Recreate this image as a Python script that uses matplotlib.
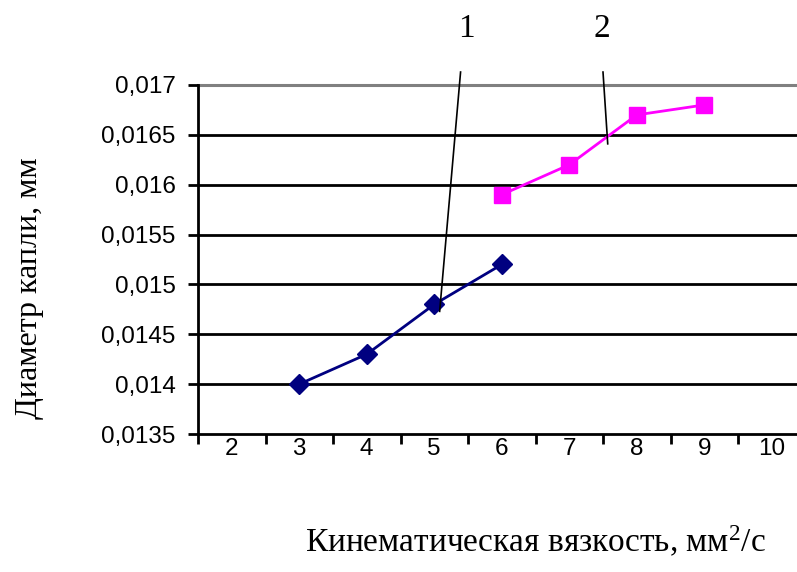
import matplotlib
matplotlib.use('Agg')
from matplotlib import pyplot as plt
from matplotlib.ticker import FixedLocator, FuncFormatter

plt.rcParams['mathtext.fontset'] = 'custom'
plt.rcParams['mathtext.rm'] = 'Liberation Serif'
plt.rcParams['mathtext.it'] = 'Liberation Serif:italic'

# data
categories = [2, 3, 4, 5, 6, 7, 8, 9, 10]
x1 = [3, 4, 5, 6]
d1 = [0.0140, 0.0143, 0.0148, 0.0152]
x2 = [6, 7, 8, 9]
d2 = [0.0159, 0.0162, 0.0167, 0.0168]
yticks = [0.0135, 0.014, 0.0145, 0.015, 0.0155, 0.016, 0.0165, 0.017]

fig = plt.figure(figsize=(7.97, 5.72), dpi=100)
W, H = 797.0, 572.0
ax = fig.add_axes([198 / W, (H - 434) / H, 607.5 / W, 349 / H])

ax.set_xlim(1.5, 10.5)
ax.set_ylim(0.0135, 0.017)

for y in yticks[1:-1]:
    ax.axhline(y, color='black', lw=2, zorder=1)
ax.axhline(0.017, color='#808080', lw=2.2, zorder=1, clip_on=False)

ax.plot(x1, d1, color='#000080', lw=2, marker='D', ms=10.5, zorder=3)
ax.plot(x2, d2, color='#FF00FF', lw=2, marker='s', ms=12, zorder=3)

for s in ['top', 'right']:
    ax.spines[s].set_visible(False)
for s in ['left', 'bottom']:
    ax.spines[s].set_linewidth(2)

ax.xaxis.set_major_locator(FixedLocator([c - 0.5 for c in categories]))
ax.xaxis.set_minor_locator(FixedLocator(categories))
ax.set_xticklabels([])
ax.set_xticklabels([str(c) for c in categories], minor=True)
ax.tick_params(axis='x', which='major', length=7, width=2, direction='out')
ax.tick_params(axis='x', which='minor', length=0, pad=3, labelsize=17.5)
for lb in ax.get_xticklabels(minor=True):
    lb.set_fontfamily('Liberation Sans')

ax.set_yticks(yticks)
ax.yaxis.set_major_formatter(FuncFormatter(lambda v, p: ('%g' % v).replace('.', ',')))
ax.tick_params(axis='y', length=7, width=2, direction='out', pad=9, labelsize=17.5)
for lb in ax.get_yticklabels():
    lb.set_fontfamily('Liberation Sans')

# callout lines
ax.plot([5.39, 5.08], [0.01713, 0.01473], color='black', lw=1.2, clip_on=False, zorder=4)
ax.plot([7.50, 7.57], [0.01713, 0.01641], color='black', lw=1.2, clip_on=False, zorder=4)
ax.text(5.47, 0.01756, '1', fontsize=24, family='Liberation Serif', ha='center', va='center')
ax.text(7.49, 0.01756, '2', fontsize=24, family='Liberation Serif', ha='center', va='center')

fig.text(30 / W, 1 - 288 / H, 'Диаметр капли, мм', rotation=90, fontsize=23,
         family='Liberation Serif', ha='center', va='center')
fig.text(535 / W, 1 - 542 / H, 'Кинематическая вязкость, мм$^2$/с', fontsize=24,
         family='Liberation Serif', ha='center', va='center')

plt.savefig('out.png', dpi=100)
plt.close()
